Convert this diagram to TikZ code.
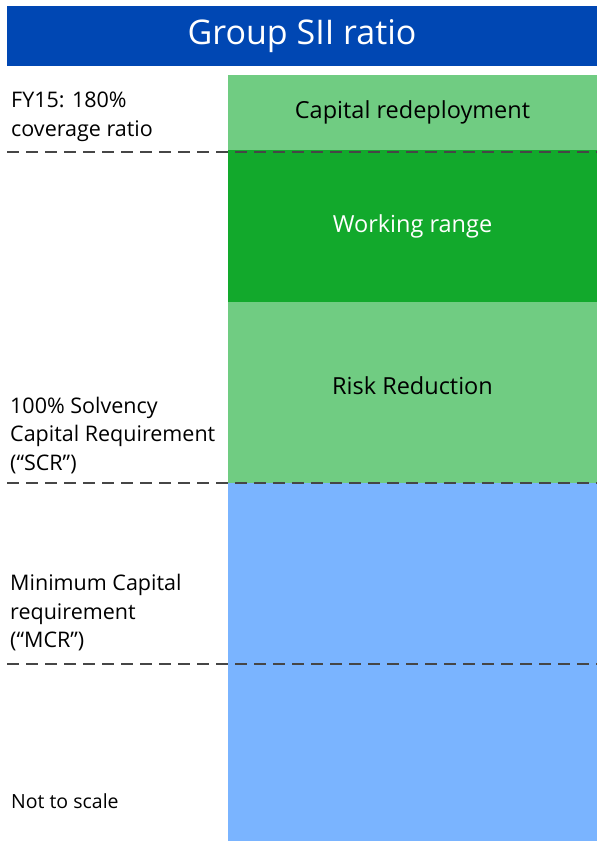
\documentclass[tikz,border=0pt]{standalone}
\usepackage{fontspec}
\setmainfont{Open Sans}
\usepackage{xcolor}
\usetikzlibrary{calc}
\definecolor{titleblue}{RGB}{0,71,179}
\definecolor{lightgreen}{RGB}{112,204,130}
\definecolor{darkgreen}{RGB}{18,169,44}
\definecolor{paleblue}{RGB}{122,180,255}
\definecolor{dashgray}{RGB}{70,70,70}
\tikzset{
band/.style={draw=none, inner sep=0pt, minimum width=369pt, font=\fontsize{23.5}{28}\selectfont},
sidelabel/.style={anchor=west, align=left, inner sep=0pt, font=\fontsize{21.5}{28.5}\selectfont},
levelline/.style={draw=dashgray, line width=2.2pt, dash pattern=on 12pt off 7pt}
}

\begin{document}
\begin{tikzpicture}[x=1pt,y=-1pt]
		\useasboundingbox (0,0) rectangle (597,841);

		\node[fill=titleblue, text=white, minimum width=590pt, minimum height=60pt, inner sep=0pt,
			font=\fontsize{34}{40}\selectfont] (H) at (302,36) {Group SII ratio};

		\node[band, fill=lightgreen, minimum height=75pt] (B_1) at (412.5,112.5) {Capital redeployment};
		\node[band, fill=darkgreen, text=white, minimum height=152pt] (B_2) at (412.5,226) {Working range};
		\node[band, fill=lightgreen, minimum height=181pt] (B_3) at (412.5,392.5) {};
		\node[band, fill=paleblue, minimum height=358pt] (B_4) at (412.5,662) {};
		\node[band, minimum width=0pt] (R) at (412.5,386) {Risk Reduction};

		\coordinate (L_1) at (7,152);
		\coordinate (L_2) at (7,483);
		\coordinate (L_3) at (7,664);
		\draw[levelline] (L_1) -- (L_1 -| B_1.east);
		\draw[levelline] (L_2) -- (L_2 -| B_3.east);
		\draw[levelline] (L_3) -- (L_3 -| B_4.east);

		\node[sidelabel] (T_1) at (11,117) {FY15: 180\%\\coverage ratio};
		\node[sidelabel] (T_2) at (10,435.5) {100\% Solvency\\Capital Requirement\\(“SCR”)};
		\node[sidelabel] (T_3) at (10,613) {Minimum Capital\\requirement\\(“MCR”)};
		\node[sidelabel, font=\fontsize{19.5}{22}\selectfont] (T_4) at (11,801) {Not to scale};
	\end{tikzpicture}
\end{document}
